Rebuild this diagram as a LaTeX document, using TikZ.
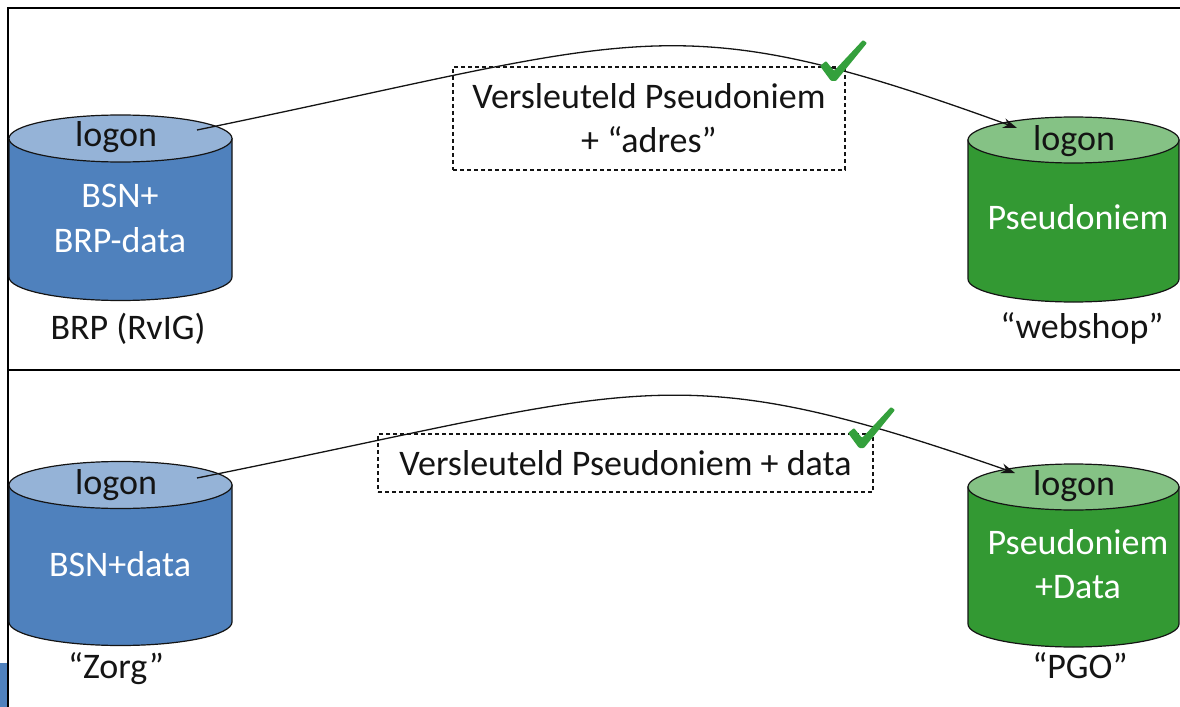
\documentclass[tikz,border=0pt]{standalone}
\usepackage{fontspec}
\setmainfont{Carlito}
\usetikzlibrary{arrows.meta}
\definecolor{cylblue}{RGB}{79,129,189}
\definecolor{cylbluetop}{RGB}{149,179,215}
\definecolor{cylgreen}{RGB}{51,153,51}
\definecolor{cylgreentop}{RGB}{133,194,133}
\definecolor{checkgreen}{RGB}{52,160,60}
\definecolor{inkdark}{RGB}{20,20,20}
\newcommand\drawcyl[7]{%
  \pgfmathsetmacro\cylcx{(#1+#2)/2}%
  \pgfmathsetmacro\cylrx{(#2-#1)/2}%
  \filldraw[cylline, fill=#6] (#1,#3) -- (#1,#4) arc[start angle=180, end angle=0, x radius=\cylrx, y radius=#5] -- (#2,#3) -- cycle;
  \filldraw[cylline, fill=#7] (\cylcx,#3) ellipse[x radius=\cylrx, y radius=#5];
}
\tikzset{
  cylline/.style={draw=inkdark, line width=1.2bp},
  frame/.style={draw=black, line width=2bp},
  lbl/.style={font=\fontsize{36bp}{44bp}\selectfont, inner sep=0pt, align=center, text=inkdark},
  wlbl/.style={lbl, text=white},
  msgbox/.style={lbl, draw=inkdark, dash pattern=on 4bp off 3bp, line width=1.2bp},
  conn/.style={draw=inkdark, line width=1.3bp, -{Stealth[length=14bp,width=10bp]}},
  checkmark/.style={fill=checkgreen, rounded corners=1bp}
}
\begin{document}
\begin{tikzpicture}[x=1bp,y=-1bp]
\useasboundingbox (0,0) rectangle (1180,707);
% frame
\draw[frame] (1180,8) -- (8,8) -- (8,707);
\draw[frame] (8,370) -- (1180,370);
\fill[cylblue] (0,663) rectangle (7,707);
% cylinders
\drawcyl{9}{232}{138.5}{277}{23.5}{cylblue}{cylbluetop}
\drawcyl{968}{1179}{140}{279}{23}{cylgreen}{cylgreentop}
\drawcyl{9}{232}{485}{622}{23.5}{cylblue}{cylbluetop}
\drawcyl{968}{1179}{487}{624}{23}{cylgreen}{cylgreentop}
% texts top
\node[lbl, anchor=base] (tlLogon) at (116,147) {logon};
\node[wlbl, anchor=base] (tlData) at (120,252) {BSN+\\BRP-data};
\node[lbl, anchor=base] (tlName) at (128,339) {BRP (RvIG)};
\node[lbl, anchor=base] (trLogon) at (1074,151) {logon};
\node[wlbl, anchor=base] (trData) at (1078,230) {Pseudoniem};
\node[lbl, anchor=base] (trName) at (1082,338) {“webshop”};
% texts bottom
\node[lbl, anchor=base] (blLogon) at (116,494) {logon};
\node[wlbl, anchor=base] (blData) at (120,576) {BSN+data};
\node[lbl, anchor=base] (blName) at (116,678) {“Zorg”};
\node[lbl, anchor=base] (brLogon) at (1074,495) {logon};
\node[wlbl, anchor=base] (brData) at (1078,598) {Pseudoniem\\+Data};
\node[lbl, anchor=base] (brName) at (1080,678) {“PGO”};
% message boxes
\node[msgbox, minimum width=392bp, minimum height=103bp] (tBox) at (649,118.5) {Versleuteld Pseudoniem\\+ “adres”};
\node[msgbox, minimum width=495bp, minimum height=58bp] (bBox) at (625.5,463) {Versleuteld Pseudoniem + data};
% connectors
\coordinate (tStart) at (197,130);
\coordinate (tEnd) at (1017,128);
\coordinate (bStart) at (197,478);
\coordinate (bEnd) at (1015,473);
\draw[conn] (tStart) .. controls (645,38) and (668,1) .. (tEnd);
\draw[conn] (bStart) .. controls (645,388) and (668,352) .. (bEnd);
% check marks
\fill[checkmark] (820,66) -- (826,61) -- (834,71) -- (863,40) -- (867,43) -- (836,81) -- (831,81) -- cycle;
\begin{scope}[shift={(28,367)}]
\fill[checkmark] (820,66) -- (826,61) -- (834,71) -- (863,40) -- (867,43) -- (836,81) -- (831,81) -- cycle;
\end{scope}
\end{tikzpicture}
\end{document}
